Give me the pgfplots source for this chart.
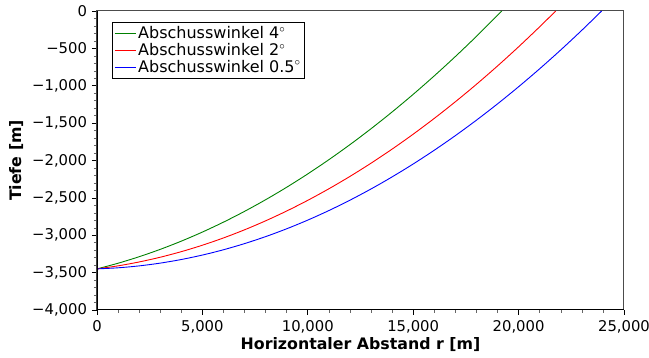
\documentclass[border=0pt]{standalone}
\usepackage{fontspec}
\setmainfont{DejaVu Sans}
\usepackage{pgfplots}
\pgfplotsset{compat=1.18}
\definecolor{cgreen}{RGB}{0,128,0}
\definecolor{cred}{RGB}{255,0,0}
\definecolor{cblue}{RGB}{0,0,255}
\begin{document}
\fontsize{14.5}{17.5}\selectfont
\begin{tikzpicture}
\path[use as bounding box] (-97pt,-48pt) rectangle (552pt,310pt);
\begin{axis}[
  scale only axis,
  width=527pt, height=299pt,
  xmin=0, xmax=25000, ymin=-4000, ymax=0,
  scaled x ticks=false, scaled y ticks=false,
  xtick={0,5000,10000,15000,20000,25000},
  xticklabels={0,{5,000},{10,000},{15,000},{20,000},{25,000}},
  ytick={-4000,-3500,-3000,-2500,-2000,-1500,-1000,-500,0},
  yticklabels={{−4,000},{−3,500},{−3,000},{−2,500},{−2,000},{−1,500},{−1,000},{−500},0},
  minor tick num=4,
  xtick pos=left, ytick pos=left,
  tick align=outside,
  major tick length=5pt, minor tick length=3pt,
  tick style={black, line width=0.6pt},
  minor tick style={black!60, line width=0.5pt},
  axis line style={black!70, line width=1pt},
  xlabel={\textbf{Horizontaler Abstand r [m]}},
  ylabel={\textbf{Tiefe [m]}},
  xlabel style={yshift=5pt},
  ylabel style={yshift=-1pt},
  tick label style={font=\fontsize{14.8}{17.5}\selectfont},
  label style={font=\fontsize{15.8}{18}\selectfont},
  legend style={at={(rel axis cs:0.0285,0.963)}, anchor=north west, draw=black, line width=0.6pt,
    font=\fontsize{16}{18.3}\selectfont, row sep=-1.5pt, inner sep=2pt},
  legend cell align=left,
  legend image code/.code={\path (0pt,0pt) -- (21pt,0pt); \draw[#1] (0pt,0pt) -- (17pt,0pt);},
]
\addplot[color=cgreen, line width=0.9pt, smooth] coordinates {
(0,-3450) (1000,-3374.4) (2000,-3287.3) (3000,-3188.8) (4000,-3078.8) (5000,-2957.4)
(6000,-2824.6) (7000,-2680.4) (8000,-2524.7) (9000,-2357.6) (10000,-2179.1)
(11000,-1989.1) (12000,-1787.7) (13000,-1574.8) (14000,-1350.6) (15000,-1114.9)
(16000,-867.7) (17000,-609.2) (18000,-339.2) (19000,-57.7) (19200,0)};
\addlegendentry{Abschusswinkel 4$^\circ$}
\addplot[color=cred, line width=0.9pt, smooth] coordinates {
(0,-3450) (1000,-3409.4) (2000,-3357.4) (3000,-3294.1) (4000,-3219.4) (5000,-3133.4)
(6000,-3036.0) (7000,-2927.2) (8000,-2807.0) (9000,-2675.5) (10000,-2532.7)
(11000,-2378.4) (12000,-2212.8) (13000,-2035.9) (14000,-1847.6) (15000,-1647.9)
(16000,-1436.8) (17000,-1214.4) (18000,-980.7) (19000,-735.5) (20000,-479.0)
(21000,-211.2) (21760,0)};
\addlegendentry{Abschusswinkel 2$^\circ$}
\addplot[color=cblue, line width=0.9pt, smooth] coordinates {
(0,-3450) (1000,-3435.6) (2000,-3409.9) (3000,-3372.9) (4000,-3324.6) (5000,-3265.0)
(6000,-3194.1) (7000,-3111.8) (8000,-3018.3) (9000,-2913.4) (10000,-2797.2)
(11000,-2669.7) (12000,-2530.9) (13000,-2380.8) (14000,-2219.4) (15000,-2046.7)
(16000,-1862.6) (17000,-1667.3) (18000,-1460.6) (19000,-1242.7) (20000,-1013.4)
(21000,-772.8) (22000,-520.9) (23000,-257.7) (23940,0)};
\addlegendentry{Abschusswinkel 0.5$^\circ$}
\draw[black, line width=1.5pt] (rel axis cs:0,1) -- (rel axis cs:0,0) -- (rel axis cs:1,0);
\end{axis}
\end{tikzpicture}
\end{document}
